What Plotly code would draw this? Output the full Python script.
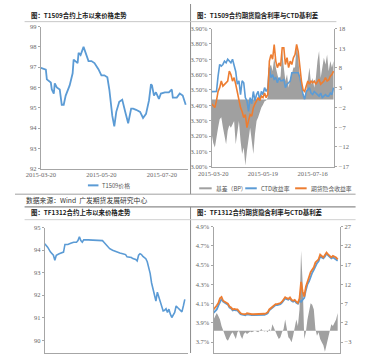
import plotly.graph_objects as go

W, H = 369, 356
def px(x): return x / W
def py(y): return 1 - y / H

BLUE = "#5b9bd5"
ORANGE = "#ed7d31"
GRAY = "#a0a0a0"
AXIS = "#a6a6a6"
TICKC = "#666666"
TFONT = dict(family="Liberation Serif, Noto Serif, serif", size=6.5, color=TICKC)

# ---------------- data ----------------
# T1509 price since listing
tl_dates = ['2015-03-20','2015-03-25','2015-03-26','2015-03-30','2015-03-31','2015-04-02','2015-04-03',
            '2015-04-05','2015-04-08','2015-04-10','2015-04-12','2015-04-14','2015-04-18','2015-04-21',
            '2015-04-22','2015-04-24','2015-04-26','2015-04-27','2015-04-29','2015-05-02','2015-05-04',
            '2015-05-07','2015-05-10','2015-05-13','2015-05-17','2015-05-20','2015-05-23','2015-05-26',
            '2015-05-28','2015-05-30','2015-05-31','2015-06-02','2015-06-04','2015-06-07','2015-06-10',
            '2015-06-13','2015-06-16','2015-06-19','2015-06-21','2015-06-24','2015-06-28','2015-07-01',
            '2015-07-04','2015-07-07','2015-07-09','2015-07-10','2015-07-12','2015-07-14','2015-07-17',
            '2015-07-19','2015-07-23','2015-07-27','2015-07-30','2015-07-31','2015-08-04','2015-08-07',
            '2015-08-10','2015-08-13']
tl_price = [96.96, 96.88, 96.4, 96.24, 95.9, 95.7, 96.2, 96.0, 95.9, 95.15, 95.15, 95.6, 96.1, 96.7,
            97.37, 97.3, 97.2, 97.7, 97.6, 98.0, 97.7, 97.3, 97.3, 97.2, 96.9, 96.6, 96.6, 96.5,
            95.9, 94.96, 94.6, 94.08, 94.8, 95.3, 95.4, 94.8, 94.24, 94.96, 94.96, 94.9, 94.8, 94.5,
            94.7, 95.36, 96.16, 96.1, 95.6, 95.76, 95.44, 95.7, 95.76, 95.76, 95.9, 95.5, 95.5, 95.7,
            95.6, 95.15]
tl_ticks = ['2015-03-20', '2015-05-20', '2015-07-20']

# T1509 basis (BP), CTD yield (%), implied rate (%) — sampled along trading days
tr_basis = [-8.7, -11, -12.1, -9, -7.1, -5, -4.5, -7, -9.6, -11.3, -7.9, -6.5, -7.1, -6, -5.4,
            -11.3, -8.7, -5.4, -10.4, -13.8, -12.1, -16.7, -13, -10.4, -7.1, -10.4, -13.8, -8.7,
            -5.4, -4.5, -2.9, -2, -1.3, -0.4, -0.2, 0.5, 8.1, 8.9, 7.2, 10.6, 8.1, 6.4, 4.7, 6,
            12.3, 8.1, 4.7, 6.4, 3, 5.5, 6.4, 8.1, 8.1, 14, 10.6, 5.5, 3.9, 1.3, 0.5, 2.2, 4.7,
            8.1, 3.9, 5.5, 3, 5.5, 9.8, 12.3, 5.5, 8.1, 10.6, 8.9, 11.4, 7.2, 9.8, 8.1, 9.8]
tr_ctd = [3.489, 3.489, 3.489, 3.49, 3.59, 3.666, 3.655, 3.666, 3.688, 3.677, 3.70, 3.688, 3.677,
          3.70, 3.666, 3.62, 3.537, 3.56, 3.47, 3.56, 3.547, 3.45, 3.428, 3.36, 3.45, 3.41, 3.49,
          3.43, 3.47, 3.49, 3.43, 3.49, 3.47, 3.515, 3.49, 3.51, 3.645, 3.58, 3.60, 3.57, 3.58,
          3.547, 3.58, 3.56, 3.56, 3.57, 3.515, 3.537, 3.547, 3.558, 3.612, 3.612, 3.612, 3.612,
          3.612, 3.58, 3.515, 3.47, 3.44, 3.49, 3.50, 3.515, 3.48, 3.47, 3.49, 3.48, 3.47, 3.46,
          3.48, 3.45, 3.46, 3.47, 3.46, 3.46, 3.48, 3.47, 3.515]
tr_impl = [3.41, 3.40, 3.385, 3.43, 3.49, 3.515, 3.558, 3.525, 3.537, 3.547, 3.558, 3.623, 3.60,
           3.558, 3.58, 3.537, 3.49, 3.43, 3.385, 3.36, 3.32, 3.34, 3.255, 3.30, 3.34, 3.33, 3.385,
           3.41, 3.43, 3.45, 3.43, 3.46, 3.45, 3.48, 3.45, 3.47, 3.688, 3.73, 3.70, 3.796, 3.688,
           3.645, 3.676, 3.655, 3.775, 3.775, 3.666, 3.71, 3.645, 3.688, 3.666, 3.71, 3.73, 3.796,
           3.75, 3.645, 3.558, 3.50, 3.49, 3.525, 3.558, 3.537, 3.558, 3.547, 3.558, 3.537, 3.558,
           3.57, 3.537, 3.547, 3.558, 3.58, 3.558, 3.565, 3.59, 3.60, 3.623]
tr_ticktext = ['2015-03-20', '2015-05-19', '2015-07-16']
tr_tickpos = [1, 32, 63]

# TF1312 price since listing
bl_dates = ['2013-09-06','2013-09-08','2013-09-10','2013-09-12','2013-09-13','2013-09-14','2013-09-16',
            '2013-09-18','2013-09-19','2013-09-20','2013-09-22','2013-09-24','2013-09-26','2013-09-28',
            '2013-09-29','2013-09-30','2013-10-01','2013-10-02','2013-10-03','2013-10-06','2013-10-09',
            '2013-10-12','2013-10-14','2013-10-16','2013-10-17','2013-10-19','2013-10-21','2013-10-23',
            '2013-10-26','2013-10-28','2013-10-30','2013-11-01','2013-11-02','2013-11-05','2013-11-06',
            '2013-11-08','2013-11-09','2013-11-10','2013-11-11','2013-11-12','2013-11-13','2013-11-15',
            '2013-11-16','2013-11-17','2013-11-18','2013-11-19','2013-11-20','2013-11-21','2013-11-22',
            '2013-11-23','2013-11-25','2013-11-26','2013-11-27','2013-11-28','2013-11-29','2013-11-30',
            '2013-12-01','2013-12-02','2013-12-03','2013-12-05','2013-12-06','2013-12-07','2013-12-08',
            '2013-12-09','2013-12-10','2013-12-11','2013-12-12']
bl_price = [94.28, 94.13, 93.91, 93.77, 93.55, 93.77, 93.84, 93.87, 93.91, 94.25, 94.25, 94.3,
            94.35, 94.35, 94.42, 94.59, 94.42, 94.35, 94.45, 94.45, 94.45, 94.45, 94.45, 94.42,
            94.35, 94.2, 94.06, 93.99, 93.91, 93.87, 93.84, 93.8, 93.7, 93.67, 93.62, 93.58, 93.52,
            93.77, 93.84, 93.8, 93.72, 93.62, 93.48, 93.26, 92.97, 92.54, 92.25, 91.96, 91.74,
            92.13, 91.74, 91.52, 91.3, 91.33, 91.4, 91.23, 91.38, 91.16, 91.01, 91.23, 91.52,
            91.45, 91.38, 91.33, 91.26, 91.52, 91.81]

# TF1312 basis (BP), CTD yield (%), implied rate (%)
br_basis = [2.9, 3.8, 4.6, 3.8, 2.9, 1.2, 0, -1.3, -2.2, -2.6, -1.7, -0.9, -0.4, -1.3, -2.2, -0.4,
            0, -1.3, -2.2, -0.9, -0.4, -0.9, -0.4, -0.2, -0.4, -0.2, 0, -0.2, -0.4, 0, 0.4, 0,
            -0.2, 0, -0.4, 0.4, -0.2, 1.65, 0.8, 0, -1.3, -2.2, -1.7, -0.4, 0.4, 2.9, 0.4, -1.7,
            -2.2, -3.0, -1.3, 0.4, 2.9, 1.2, 5.5, 20.7, 12.2, -2.2, -0.4, 2.9, 4.6, 7.1, 6.7, 5.5,
            0.4, -1.3, -0.4, -2.2, -3.0, -3.8, -5.5, -3.8, -1.3, 0.4, 1.65, 1.2, 2.1, 2.9, 4.6]
br_ctd = [4.005, 4.02, 4.04, 4.08, 4.12, 4.15, 4.12, 4.11, 4.095, 4.09, 4.06, 4.05, 4.03, 4.035,
          4.03, 4.03, 4.01, 3.99, 3.985, 3.98, 3.98, 3.99, 3.985, 3.98, 3.98, 3.98, 3.98, 3.98,
          3.98, 3.98, 3.98, 3.98, 3.985, 3.99, 4.0, 4.03, 4.045, 4.06, 4.08, 4.085, 4.085, 4.09,
          4.095, 4.11, 4.13, 4.155, 4.147, 4.14, 4.155, 4.13, 4.12, 4.13, 4.11, 4.10, 4.13, 4.12,
          4.14, 4.16, 4.24, 4.30, 4.33, 4.38, 4.42, 4.45, 4.49, 4.52, 4.54, 4.59, 4.58, 4.57,
          4.59, 4.62, 4.60, 4.585, 4.57, 4.58, 4.57, 4.56, 4.545]
br_impl = [4.04, 4.055, 4.08, 4.106, 4.156, 4.17, 4.13, 4.12, 4.106, 4.10, 4.07, 4.06, 4.04, 4.045,
           4.04, 4.04, 4.02, 4.0, 3.995, 3.99, 3.99, 4.0, 3.995, 3.99, 3.99, 3.99, 3.99, 3.99,
           3.99, 3.99, 3.99, 3.99, 3.995, 4.0, 4.01, 4.04, 4.055, 4.07, 4.09, 4.095, 4.095, 4.1,
           4.106, 4.12, 4.14, 4.167, 4.157, 4.15, 4.165, 4.14, 4.13, 4.14, 4.12, 4.106, 4.156,
           4.325, 4.224, 4.173, 4.275, 4.34, 4.376, 4.427, 4.46, 4.477, 4.528, 4.545, 4.56, 4.61,
           4.595, 4.58, 4.606, 4.63, 4.61, 4.595, 4.58, 4.595, 4.585, 4.58, 4.56]

titles = ["图：T1509合约上市以来价格走势", "图：T1509合约期货隐含利率与CTD基利差",
          "图：TF1312合约上市以来价格走势", "图：TF1312合约期货隐含利率与CTD基利差"]
source_text = "数据来源：Wind  广发期货发展研究中心"
names_tl = ["T1509价格"]
names_tr = ["基差（BP）", "CTD收益率", "期货隐含收益率"]

# ---------------- figure ----------------
fig = go.Figure()
fig.add_trace(go.Scatter(x=tl_dates, y=tl_price, xaxis="x", yaxis="y", mode="lines",
                         line=dict(color=BLUE, width=1.8), name=names_tl[0], showlegend=False))

fig.add_trace(go.Scatter(x=list(range(len(tr_basis))), y=tr_basis, xaxis="x2", yaxis="y2", mode="lines",
                         fill="tozeroy", line=dict(color=GRAY, width=0), fillcolor=GRAY,
                         name=names_tr[0], showlegend=False))
fig.add_trace(go.Scatter(x=list(range(len(tr_ctd))), y=tr_ctd, xaxis="x2", yaxis="y3", mode="lines",
                         line=dict(color=BLUE, width=1.6), name=names_tr[1], showlegend=False))
fig.add_trace(go.Scatter(x=list(range(len(tr_impl))), y=tr_impl, xaxis="x2", yaxis="y3", mode="lines",
                         line=dict(color=ORANGE, width=1.6), name=names_tr[2], showlegend=False))

fig.add_trace(go.Scatter(x=bl_dates, y=bl_price, xaxis="x3", yaxis="y4", mode="lines",
                         line=dict(color=BLUE, width=1.6), showlegend=False))

fig.add_trace(go.Scatter(x=list(range(len(br_basis))), y=br_basis, xaxis="x4", yaxis="y5", mode="lines",
                         fill="tozeroy", line=dict(color=GRAY, width=0), fillcolor=GRAY, showlegend=False))
fig.add_trace(go.Scatter(x=list(range(len(br_ctd))), y=br_ctd, xaxis="x4", yaxis="y6", mode="lines",
                         line=dict(color=BLUE, width=1.8), showlegend=False))
fig.add_trace(go.Scatter(x=list(range(len(br_impl))), y=br_impl, xaxis="x4", yaxis="y6", mode="lines",
                         line=dict(color=ORANGE, width=1.8), showlegend=False))

ax_common = dict(showline=True, linecolor=AXIS, linewidth=1, showgrid=False, zeroline=False,
                 tickfont=TFONT, ticks="outside", ticklen=2, tickcolor=AXIS)
xax_common = dict(showline=True, linecolor=AXIS, linewidth=1, showgrid=False, zeroline=False,
                  tickfont=TFONT, ticks="")
xax_plain = {k: v for k, v in xax_common.items() if k != "tickfont"}

fig.update_layout(
    width=W, height=H, margin=dict(l=0, r=0, t=0, b=0),
    paper_bgcolor="white", plot_bgcolor="white", showlegend=False, hovermode=False,
    xaxis=dict(domain=[px(27), px(180)], anchor="y", type="date",
               range=["2015-03-20", "2015-08-15"], tickvals=tl_ticks, ticktext=tl_ticks, **xax_common),
    yaxis=dict(domain=[py(168), py(23)], anchor="x", range=[92, 99], dtick=1, **ax_common),
    xaxis2=dict(domain=[px(205), px(333)], anchor="y2", range=[0, 76.6],
                tickvals=tr_tickpos, ticktext=tr_ticktext, **xax_common),
    yaxis2=dict(domain=[py(166), py(25)], anchor="x2", side="right", range=[-17, 18],
                tick0=-17, dtick=5, **ax_common),
    yaxis3=dict(overlaying="y2", anchor="x2", side="left", range=[3.0, 3.9], tick0=3.0, dtick=0.1,
                tickformat=".2f", ticksuffix="%", **ax_common),
    xaxis3=dict(domain=[px(31), px(180)], anchor="y4", type="date",
                range=["2013-09-06", "2013-12-14"], showticklabels=False, **xax_plain),
    yaxis4=dict(domain=[0, py(228)], anchor="x3", range=[89.435, 95], dtick=1, **ax_common),
    xaxis4=dict(domain=[px(207), px(339)], anchor="y5", range=[0, 79.6], showticklabels=False, **xax_plain),
    yaxis5=dict(domain=[0, py(227)], anchor="x4", side="right", range=[-5.8, 27], tick0=-3, dtick=5,
                **ax_common),
    yaxis6=dict(overlaying="y5", anchor="x4", side="left", range=[3.588, 4.9], tick0=3.7, dtick=0.2,
                tickformat=".1f", ticksuffix="%", **ax_common),
)

# ---------- titles / source ----------
TITLEFONT = dict(family="Noto Sans CJK SC", size=6.4, color="#1a1a1a")
for txt, (x0, y0) in zip(titles, [(15, 12), (188, 12), (15, 213), (188, 213)]):
    fig.add_annotation(x=px(x0), y=py(y0), xref="paper", yref="paper", text="<b>" + txt + "</b>",
                       showarrow=False, xanchor="left", yanchor="middle", font=TITLEFONT)
fig.add_annotation(x=px(9), y=py(200), xref="paper", yref="paper", text=source_text, showarrow=False,
                   xanchor="left", yanchor="middle",
                   font=dict(family="Noto Sans CJK SC", size=6.8, color="#333333"))

# ---------- legends (drawn) ----------
LEGFONT = dict(family="Noto Sans CJK SC", size=5.8, color="#555555")
leg_items = [(names_tl[0], BLUE, 76, 87, 89, 185),
             (names_tr[0], GRAY, 192, 205, 207, 188),
             (names_tr[1], BLUE, 240, 252, 254, 188),
             (names_tr[2], ORANGE, 292, 304, 306, 188)]
for name, col, xa, xb, xt, yy in leg_items:
    fig.add_shape(type="line", xref="paper", yref="paper", x0=px(xa), x1=px(xb), y0=py(yy), y1=py(yy),
                  line=dict(color=col, width=2))
    fig.add_annotation(x=px(xt), y=py(yy), xref="paper", yref="paper", text=name, showarrow=False,
                       xanchor="left", yanchor="middle", font=LEGFONT)

# ---------- frame lines ----------
def hline(y, x0, x1, col="#b0b0b0", w=1):
    fig.add_shape(type="line", xref="paper", yref="paper", x0=px(x0), x1=px(x1), y0=py(y), y1=py(y),
                  line=dict(color=col, width=w))
def vline(x, y0, y1, col="#8c8c8c", w=1):
    fig.add_shape(type="line", xref="paper", yref="paper", x0=px(x), x1=px(x), y0=py(y0), y1=py(y1),
                  line=dict(color=col, width=w))

vline(183, 0, 194)
vline(183, 207, 356)
hline(18, 10, 335, "#c8c8c8")
hline(194, 0, 355, "#a0a0a0")
hline(207, 10, 355, "#8c8c8c", 1.2)
hline(220, 10, 355, "#d0d0d0")

fig.write_html("out.html", config={"displayModeBar": False, "staticPlot": True},
               post_script="document.body.style.margin='0px';")
